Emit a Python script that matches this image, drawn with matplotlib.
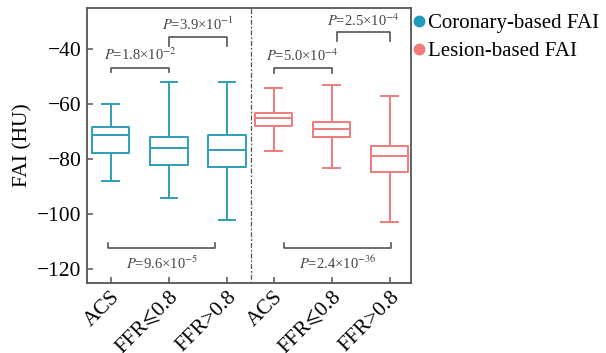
import matplotlib
matplotlib.use("Agg")
import matplotlib.pyplot as plt
from matplotlib.lines import Line2D

plt.rcParams['font.family'] = ['Liberation Serif', 'STIXGeneral', 'DejaVu Serif']
plt.rcParams['mathtext.fontset'] = 'stix'

# box statistics (HU)
groups = ['ACS', 'FFR⩽0.8', 'FFR>0.8']
cor_whishi = [-60, -52, -52]
cor_q3 = [-68.3, -72.0, -71.3]
cor_med = [-71.0, -76.0, -76.6]
cor_q1 = [-77.8, -81.9, -82.7]
cor_whislo = [-88, -94, -102]

les_whishi = [-54.2, -53.1, -57.0]
les_q3 = [-63.2, -66.4, -75.2]
les_med = [-64.9, -68.8, -78.8]
les_q1 = [-67.9, -72.0, -84.6]
les_whislo = [-77.1, -83.0, -102.9]

# pairwise p-values: (mantissa, exponent)
cor_p = [('1.8', '-2'), ('3.9', '-1'), ('9.6', '-5')]
les_p = [('5.0', '-4'), ('2.5', '-4'), ('2.4', '-36')]

teal = '#2f9fb7'
salmon = '#f07b7b'
gray = '#555555'


def stats(lo, q1, med, q3, hi):
    return [dict(whislo=a, q1=b, med=c, q3=d, whishi=e, fliers=[])
            for a, b, c, d, e in zip(lo, q1, med, q3, hi)]


def draw(ax, st, pos, color):
    lp = dict(color=color, linewidth=1.4)
    ax.bxp(st, positions=pos, widths=0.64, showfliers=False,
           boxprops=lp, medianprops=lp, whiskerprops=lp, capprops=lp,
           capwidths=0.29)


def bracket(ax, x0, x1, y, leg, p, ty, va):
    ax.plot([x0, x0, x1, x1], [y + leg, y, y, y + leg], color=gray, lw=1.2)
    ax.text((x0 + x1) / 2, ty, r'$\it{P}$=%s×10$^{%s}$' % (p[0], p[1].replace('-', '−')),
            ha='center', va=va, fontsize=10.5, color='#444444')


fig = plt.figure(figsize=(6.06, 3.53), dpi=100)
ax = fig.add_axes([0.1436, 0.198, 0.535, 0.779])

cor_pos = [1, 2, 3]
les_pos = [3.8, 4.8, 5.8]
draw(ax, stats(cor_whislo, cor_q1, cor_med, cor_q3, cor_whishi), cor_pos, teal)
draw(ax, stats(les_whislo, les_q1, les_med, les_q3, les_whishi), les_pos, salmon)

ax.axvline(3.41, color=gray, lw=0.9, ls=(0, (1.5, 1.5, 4, 1.5)))

bracket(ax, 1, 2, -46.6, -1.8, cor_p[0], -44.0, 'baseline')
bracket(ax, 2, 3, -35.5, -3.4, cor_p[1], -33.0, 'baseline')
bracket(ax, 0.95, 2.8, -112.3, 1.9, cor_p[2], -114.5, 'top')
bracket(ax, 3.8, 4.8, -46.9, -1.8, les_p[0], -44.3, 'baseline')
bracket(ax, 4.9, 5.8, -33.8, -3.3, les_p[1], -31.6, 'baseline')
bracket(ax, 3.98, 5.82, -112.3, 1.9, les_p[2], -114.5, 'top')

ax.set_xlim(0.59, 6.17)
ax.set_ylim(-125, -25)
ax.set_yticks([-40, -60, -80, -100, -120])
ax.set_yticklabels(['−40', '−60', '−80', '−100', '−120'])
ax.set_xticks(cor_pos + les_pos)
ax.set_xticklabels(groups + groups, rotation=45, ha='right', rotation_mode='anchor')
ax.set_ylabel('FAI (HU)', fontsize=15.5, labelpad=3)
ax.tick_params(direction='in', length=4, width=1.1, color=gray, labelsize=15.5)
ax.tick_params(axis='x', pad=3)
ax.tick_params(axis='y', pad=4)
for s in ax.spines.values():
    s.set_color(gray)
    s.set_linewidth(1.3)

handles = [Line2D([], [], ls='', marker='o', ms=7.5, color='#1d9cbc'),
           Line2D([], [], ls='', marker='o', ms=7.5, color=salmon)]
fig.legend(handles, ['Coronary-based FAI', 'Lesion-based FAI'], loc='upper left',
           bbox_to_anchor=(0.667, 0.985), frameon=False, fontsize=15,
           handlelength=0.6, handletextpad=0.15, labelspacing=0.4, borderaxespad=0)

fig.savefig('out.png', dpi=100)
